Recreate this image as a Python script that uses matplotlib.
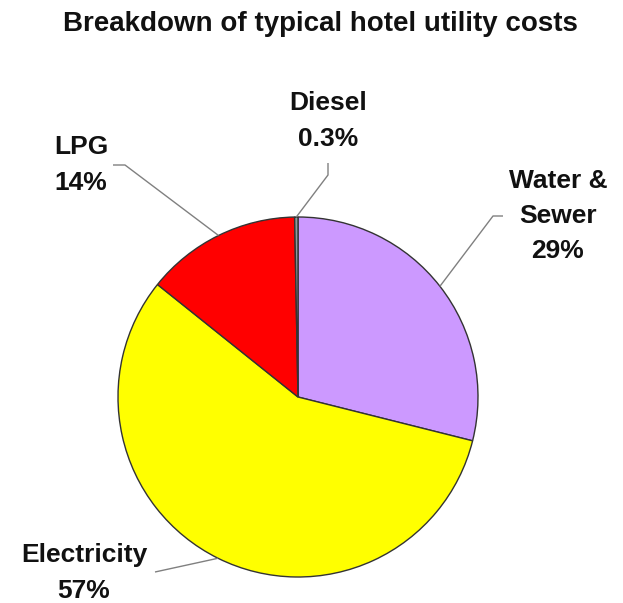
import numpy as np
import matplotlib
matplotlib.use("Agg")
import matplotlib.pyplot as plt

# Utility cost shares (%), drawn clockwise from 12 o'clock
categories = ["Water &\nSewer", "Electricity", "LPG", "Diesel"]
shares = [29, 57, 14, 0.3]
share_labels = ["29%", "57%", "14%", "0.3%"]
colors = ["#CC99FF", "#FFFF00", "#FF0000", "#8C9C9C"]

W, H = 623, 603
fig = plt.figure(figsize=(W / 100, H / 100), dpi=100)
ax = fig.add_axes([0, 0, 1, 1])

plt.rcParams["font.family"] = ["Liberation Sans", "DejaVu Sans"]

cx, cy, r = 298, H - 397, 180
wedges, _ = ax.pie(shares, colors=colors, startangle=90, counterclock=False,
                   center=(cx, cy), radius=r, frame=True,
                   wedgeprops=dict(edgecolor="#333333", linewidth=1.0))
ax.set_xlim(0, W)
ax.set_ylim(0, H)
ax.set_aspect("equal")
ax.axis("off")

ax.text(320, H - 24, "Breakdown of typical hotel utility costs", ha="center",
        va="center", fontsize=20, fontweight="bold", color="#111111")

# label text centre, anchor, leader-line elbow points (image-space y measured from top)
label_layout = [
    dict(xy=(558, 216), ha="center", path=[(493, 216), (503, 216)]),
    dict(xy=(84, 573), ha="center", path=[(155, 572)]),
    dict(xy=(54, 165), ha="left", path=[(125, 165), (113, 165)]),
    dict(xy=(328, 121), ha="center", path=[(328, 175), (328, 163)]),
]

for w, name, pct, lay in zip(wedges, categories, share_labels, label_layout):
    mid = np.deg2rad((w.theta1 + w.theta2) / 2)
    x0, y0 = cx + r * np.cos(mid), cy + r * np.sin(mid)
    xs = [x0] + [p[0] for p in lay["path"]]
    ys = [y0] + [H - p[1] for p in lay["path"]]
    ax.plot(xs, ys, color="#808080", lw=1.0, solid_capstyle="butt")
    ax.text(lay["xy"][0], H - lay["xy"][1], f"{name}\n{pct}", ha=lay["ha"],
            va="center", multialignment="center" if lay["ha"] == "center" else "left",
            fontsize=19, fontweight="bold", color="#111111", linespacing=1.6)

fig.savefig("out.png", dpi=100)
